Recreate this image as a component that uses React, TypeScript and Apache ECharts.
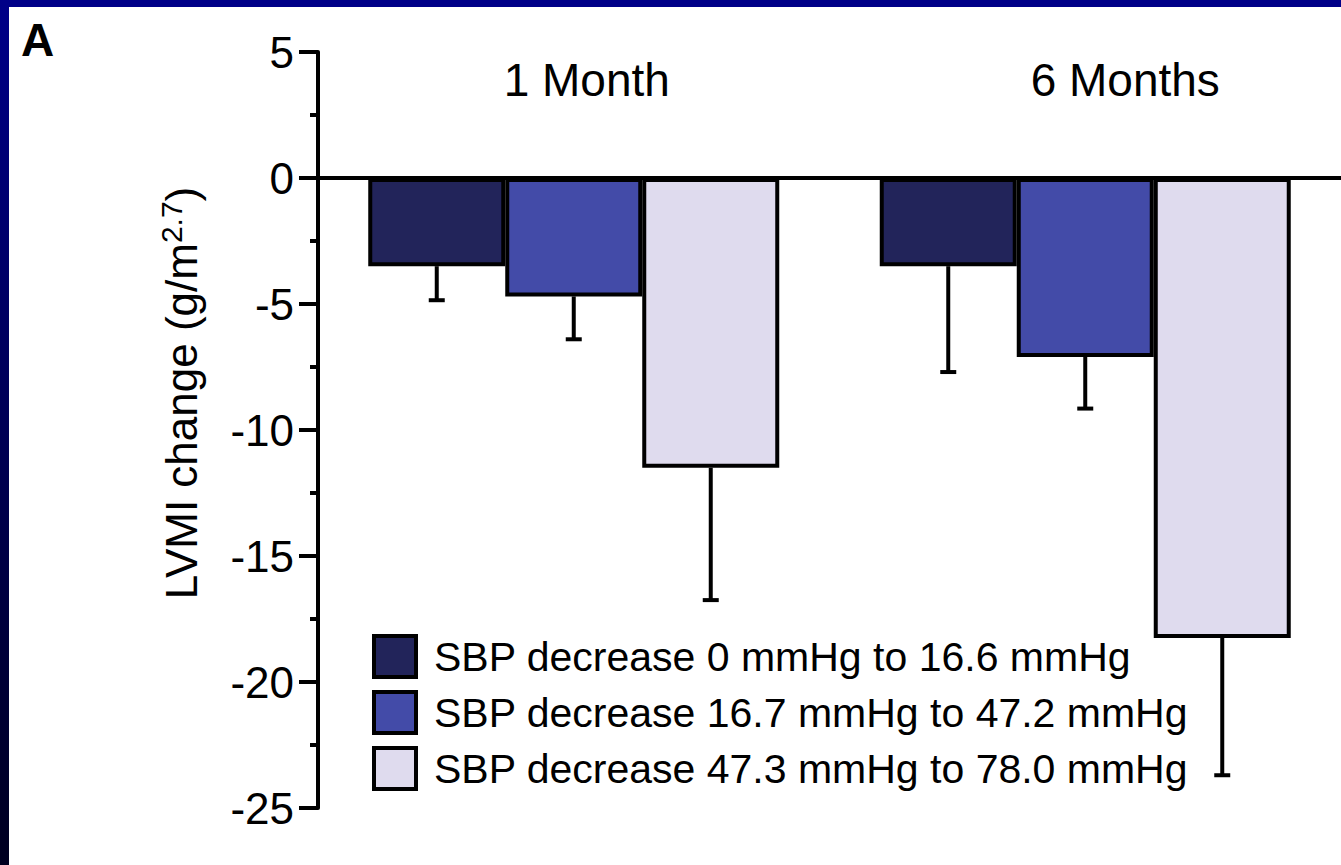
import React, { useEffect, useRef } from "react";
import * as echarts from "echarts";

const categories = ["1 Month", "6 Months"];
const seriesNames = [
  "SBP decrease 0 mmHg to 16.6 mmHg",
  "SBP decrease 16.7 mmHg to 47.2 mmHg",
  "SBP decrease 47.3 mmHg to 78.0 mmHg",
];
const seriesColors = ["#22245a", "#434ba8", "#dfdbee"];
// mean LVMI change per group, per category (1 Month, 6 Months)
const meanLow = [-3.5, -3.5];
const meanMid = [-4.7, -7.1];
const meanHigh = [-11.5, -18.25];
// error (lower whisker magnitude)
const errLow = [1.35, 4.2];
const errMid = [1.7, 2.05];
const errHigh = [5.25, 5.45];
const yTicks = { min: -25, max: 5, interval: 5 };

const FONT = "'Liberation Sans', Arial, sans-serif";
const BAR_W = 137;
const LW = 4;

export default function App() {
  const ref = useRef<HTMLDivElement>(null);
  useEffect(() => {
    const chart = echarts.init(ref.current!, null, { renderer: "svg" });
    const means = [meanLow, meanMid, meanHigh];
    const errs = [errLow, errMid, errHigh];

    const barSeries = means.map((m, i) => ({
      name: seriesNames[i],
      type: "bar",
      xAxisIndex: 0,
      data: m,
      barWidth: BAR_W,
      barGap: "0%",
      itemStyle: { color: seriesColors[i], borderColor: "#000", borderWidth: LW },
      z: 2,
    }));

    const errSeries = means.map((m, i) => ({
      name: "err" + i,
      type: "custom",
      xAxisIndex: 0,
      z: 3,
      data: m.map((v, c) => [c, v, v - errs[i][c]]),
      encode: { x: 0, y: [1, 2] },
      renderItem: (params: any, api: any) => {
        const c = api.value(0);
        const p0 = api.coord([c, api.value(1)]);
        const p1 = api.coord([c, api.value(2)]);
        const x = p0[0] + (i - 1) * BAR_W;
        const style = { stroke: "#000", lineWidth: LW };
        return {
          type: "group",
          children: [
            { type: "line", shape: { x1: x, y1: p0[1], x2: x, y2: p1[1] }, style },
            { type: "line", shape: { x1: x - 8, y1: p1[1], x2: x + 8, y2: p1[1] }, style },
          ],
        };
      },
    }));

    chart.setOption({
      animation: false,
      backgroundColor: "#ffffff",
      textStyle: { fontFamily: FONT },
      graphic: [
        { type: "rect", shape: { x: 0, y: 0, width: 1341, height: 7 }, style: { fill: "#000088" }, z: 100 },
        {
          type: "rect",
          shape: { x: 0, y: 0, width: 9, height: 865 },
          style: {
            fill: new echarts.graphic.LinearGradient(0, 0, 0, 1, [
              { offset: 0, color: "#000088" },
              { offset: 1, color: "#000020" },
            ]),
          },
          z: 100,
        },
        {
          type: "text",
          left: 21,
          top: 17,
          style: { text: "A", font: `bold 46px ${FONT}`, fill: "#000" },
        },
      ],
      grid: { left: 318, right: 0, top: 52, bottom: 57, containLabel: false },
      legend: {
        data: seriesNames,
        orient: "vertical",
        left: 367,
        top: 629,
        itemWidth: 42,
        itemHeight: 41,
        itemGap: 11,
        icon: "rect",
        itemStyle: { borderColor: "#000", borderWidth: LW },
        textStyle: { fontFamily: FONT, fontSize: 41, lineHeight: 41, color: "#000", padding: [0, 0, 0, 13] },
      },
      xAxis: [
        {
          type: "category",
          data: categories,
          position: "bottom",
          axisLine: { onZero: true, lineStyle: { color: "#000", width: LW } },
          axisTick: { alignWithLabel: true, inside: true, length: 16, lineStyle: { color: "#000", width: LW } },
          axisLabel: { show: false },
        },
        {
          type: "category",
          data: categories,
          position: "bottom",
          axisLine: { onZero: true, show: false },
          axisTick: { inside: true, length: 9, lineStyle: { color: "#000", width: 3 } },
          axisLabel: { show: false },
        },
        {
          type: "category",
          data: categories,
          position: "top",
          axisLine: { show: false },
          axisTick: { show: false },
          axisLabel: {
            inside: true,
            margin: 5,
            color: "#000",
            fontSize: 46,
            fontFamily: FONT,
            formatter: (v: string, idx: number) => `{c${idx}|${v}}`,
            rich: {
              c0: { fontSize: 46, fontFamily: FONT, color: "#000", padding: [0, 0, 0, 26] },
              c1: { fontSize: 46, fontFamily: FONT, color: "#000", padding: [0, 0, 0, 80] },
            },
          },
        },
      ],
      yAxis: {
        type: "value",
        min: yTicks.min,
        max: yTicks.max,
        interval: yTicks.interval,
        splitLine: { show: false },
        axisLine: { show: true, onZero: false, lineStyle: { color: "#000", width: LW } },
        axisTick: { show: true, length: 19, lineStyle: { color: "#000", width: LW } },
        minorTick: { show: true, splitNumber: 2, length: 8, lineStyle: { color: "#000", width: LW } },
        axisLabel: { color: "#000", fontSize: 44, fontFamily: FONT, margin: 24 },
        name: "{a|LVMI change (g/m}{s|2.7}{a|)}",
        nameLocation: "middle",
        nameRotate: 90,
        nameGap: 112,
        nameTextStyle: {
          padding: [0, 0, 0, 74],
          rich: {
            a: { fontSize: 44, fontFamily: FONT, color: "#000", lineHeight: 50 },
            s: { fontSize: 30, fontFamily: FONT, color: "#000", verticalAlign: "top", lineHeight: 50, padding: [0, 0, 16, 0] },
          },
        },
      },
      series: [...barSeries, ...errSeries],
    });
    return () => chart.dispose();
  }, []);
  return (
    <div
      ref={ref}
      style={{ position: "fixed", left: 0, top: 0, width: 1341, height: 865, background: "#fff" }}
    />
  );
}
